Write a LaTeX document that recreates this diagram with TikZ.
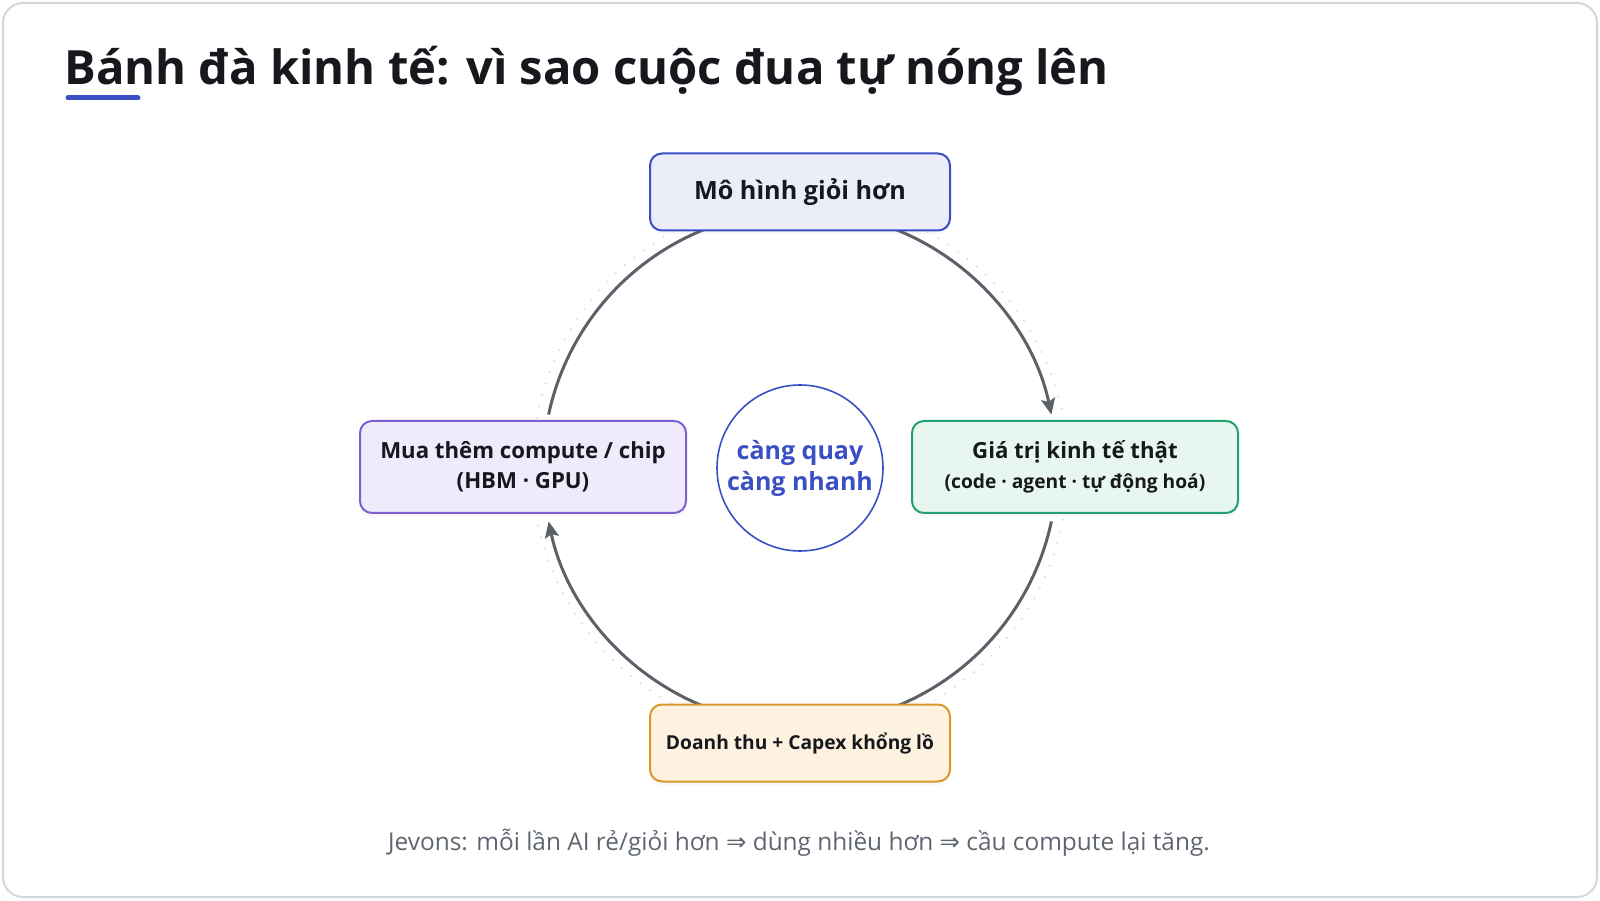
\documentclass[tikz,border=0pt]{standalone}
\usepackage{fontspec}
\setmainfont{Open Sans}
\newfontfamily\symfont{DejaVu Sans}
\usetikzlibrary{arrows.meta,calc,shadows}

\definecolor{ink}{HTML}{16181D}
\definecolor{accent}{HTML}{3B4FC4}
\definecolor{wheel}{HTML}{5C6069}
\definecolor{note}{HTML}{5F6570}
\definecolor{frame}{HTML}{D3D6DC}

\begin{document}
\begin{tikzpicture}[x=0.5pt, y=0.5pt,
    stage/.style={draw, line width=1pt, rounded corners=6pt, align=center,
      text=ink, font=\bfseries\fontsize{11.1pt}{15pt}\selectfont,
      drop shadow={opacity=0.06, shadow xshift=0pt, shadow yshift=-2pt}},
    flow/.style={wheel, line width=1.5pt, -{Stealth[length=8pt, width=7pt, inset=1.5pt]}},
    spin/.style={wheel, line width=1.5pt}]
  % cadre
  \draw[frame, line width=1pt, rounded corners=10pt] (3,3) rectangle (1597,897);
  \useasboundingbox (0,0) rectangle (1600,900);

  % titre
  \node[anchor=base west, inner sep=0, text=ink,
    font=\bfseries\fontsize{23.6pt}{28pt}\selectfont] (title) at (64,815)
    {Bánh đà kinh tế: vì sao cuộc đua tự nóng lên};
  \draw[accent, line width=2.5pt, line cap=round] (68,802) -- (138,802);

  % moyeu central
  \node[circle, draw=accent, line width=0.8pt, fill=white, minimum size=83pt,
    inner sep=0, align=center, text=accent,
    font=\bfseries\fontsize{12.5pt}{15.5pt}\selectfont] (hub) at (800,432)
    {càng quay\\càng nhanh};

  % anneau pointille + arcs
  \draw[frame, line width=1pt, line cap=round, dash pattern=on 0pt off 6pt] (hub) circle[radius=268];
  \draw[flow] ($(hub)+(68:257)$) arc[start angle=68, end angle=12, radius=257];
  \draw[spin] ($(hub)+(-12:257)$) arc[start angle=-12, end angle=-68, radius=257];
  \draw[flow] ($(hub)+(-112:257)$) arc[start angle=-112, end angle=-168, radius=257];
  \draw[spin] ($(hub)+(168:257)$) arc[start angle=168, end angle=112, radius=257];

  % etapes
  \node[stage, draw=accent, fill=accent!10, minimum width=150pt, minimum height=38.5pt,
    font=\bfseries\fontsize{12.6pt}{15pt}\selectfont] (model) at (800,708)
    {Mô hình giỏi hơn};
  \node[stage, draw={rgb,255:red,125;green,95;blue,207}, fill={rgb,255:red,240;green,235;blue,252},
    minimum width=163pt, minimum height=46pt] (chip) at (523,433)
    {Mua thêm compute / chip\\(HBM · GPU)};
  \node[stage, draw={rgb,255:red,35;green,160;blue,109}, fill={rgb,255:red,231;green,247;blue,239},
    minimum width=163pt, minimum height=46pt] (value) at (1075,433)
    {Giá trị kinh tế thật\\{\fontsize{9.6pt}{15pt}\selectfont (code · agent · tự động hoá)}};
  \node[stage, draw={rgb,255:red,217;green,152;blue,44}, fill={rgb,255:red,253;green,242;blue,223},
    minimum width=150pt, minimum height=38.5pt,
    font=\bfseries\fontsize{9.6pt}{12pt}\selectfont] (capex) at (800,157)
    {Doanh thu + Capex khổng lồ};

  % note Jevons
  \node[text=note, font=\fontsize{12.2pt}{14pt}\selectfont] (jevons) at (799,57)
    {Jevons: mỗi lần AI rẻ/giỏi hơn {\symfont ⇒} dùng nhiều hơn {\symfont ⇒} cầu compute lại tăng.};
\end{tikzpicture}
\end{document}
